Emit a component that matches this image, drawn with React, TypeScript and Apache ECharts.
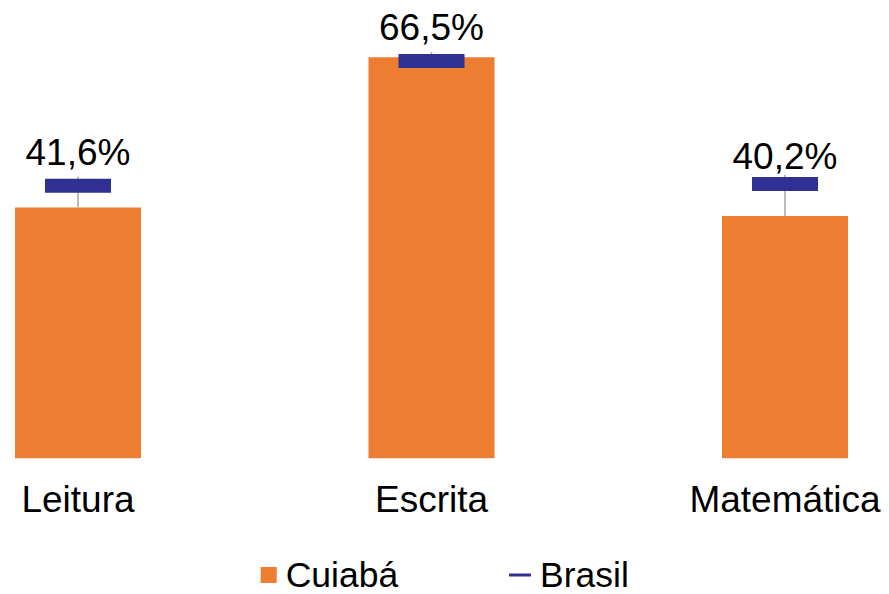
import React, { useEffect, useRef } from "react";
import * as echarts from "echarts";

const categories = ["Leitura", "Escrita", "Matemática"];
const cuiabaValues = [41.6, 66.5, 40.2];
const brasilValues = [45.2, 65.9, 45.5];
const labelDistances = [8.5, 8.2, 2];

const ORANGE = "#ED7D31";
const BLUE = "#2E3192";
const GRAY = "#A6A6A6";
const FONT = "Liberation Sans, Arial, sans-serif";
const FS = 37;

const fmt = (v: number) => v.toFixed(1).replace(".", ",") + "%";

export default function App() {
  const ref = useRef<HTMLDivElement>(null);
  useEffect(() => {
    if (!ref.current) return;
    const chart = echarts.init(ref.current, undefined, { renderer: "svg" });
    const legendText = {
      fontSize: 35.5,
      fontFamily: FONT,
      color: "#000",
      lineHeight: 28,
      padding: [0, 0, 0, 4],
    };
    chart.setOption({
      animation: false,
      backgroundColor: "#fff",
      grid: { left: 78, right: 104, top: 36.2, bottom: 135.7, containLabel: false },
      legend: [
        {
          data: [{ name: "Cuiabá", icon: "rect" }],
          left: 260.7,
          top: 557,
          padding: 0,
          itemWidth: 16,
          itemHeight: 16,
          textStyle: legendText,
          selectedMode: false,
        },
        {
          data: [{ name: "Brasil", icon: "rect" }],
          left: 509,
          top: 557,
          padding: 0,
          itemWidth: 22,
          itemHeight: 3,
          textStyle: legendText,
          selectedMode: false,
        },
      ],
      xAxis: {
        type: "category",
        data: categories,
        boundaryGap: false,
        axisLine: { show: false },
        axisTick: { show: false },
        axisLabel: { fontSize: FS, fontFamily: FONT, color: "#000", margin: 23, lineHeight: 37 },
        splitLine: { show: false },
      },
      yAxis: {
        type: "value",
        min: 0,
        max: 70,
        show: false,
        splitLine: { show: false },
      },
      series: [
        {
          name: "Cuiabá",
          type: "bar",
          data: cuiabaValues,
          barWidth: 126,
          itemStyle: { color: ORANGE },
          z: 1,
        },
        {
          name: "hilo",
          type: "custom",
          data: categories.map((_, i) => [i, cuiabaValues[i], brasilValues[i]]),
          encode: { x: 0, y: [1, 2] },
          renderItem: (params: any, api: any) => {
            const i = api.value(0);
            const p1 = api.coord([i, api.value(1)]);
            const p2 = api.coord([i, api.value(2)]);
            return {
              type: "line",
              shape: { x1: p1[0], y1: p1[1], x2: p2[0], y2: p2[1] - 9 },
              style: { stroke: GRAY, lineWidth: 1.5 },
            };
          },
          z: 2,
          silent: true,
        },
        {
          name: "Brasil",
          type: "scatter",
          symbol: "rect",
          symbolSize: [66, 14],
          itemStyle: { color: BLUE, opacity: 1 },
          data: brasilValues.map((v, i) => ({
            value: v,
            label: { distance: labelDistances[i] },
          })),
          label: {
            show: true,
            position: "top",
            fontSize: FS,
            lineHeight: 36,
            fontFamily: FONT,
            color: "#000",
            formatter: (p: any) => fmt(cuiabaValues[p.dataIndex]),
          },
          z: 3,
        },
      ],
    });
    return () => chart.dispose();
  }, []);
  return (
    <div
      ref={ref}
      style={{ position: "fixed", left: 0, top: 0, width: 889, height: 594, background: "#fff" }}
    />
  );
}
